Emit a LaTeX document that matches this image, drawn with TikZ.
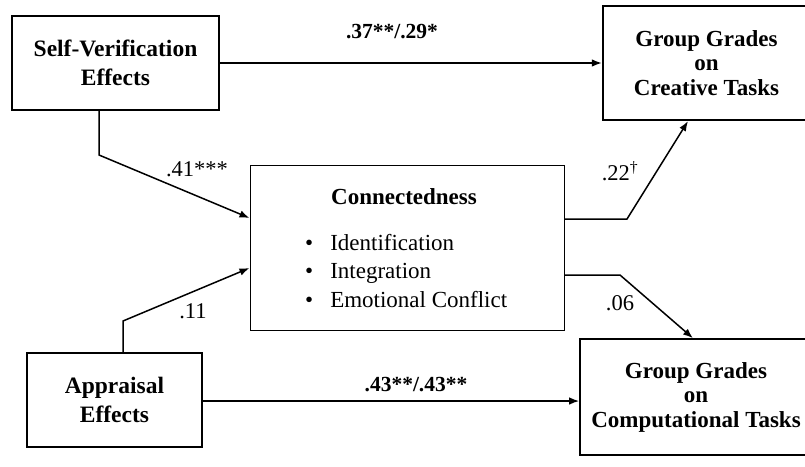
\documentclass[tikz,border=0pt]{standalone}
\usepackage{fontspec}
\setmainfont{Liberation Serif}
\usepackage{tikz}
\usetikzlibrary{positioning, arrows.meta}

\begin{document}
\begin{tikzpicture}[x=1pt, y=-1pt,
    box/.style={draw, line width=1.6pt, align=center, inner sep=0pt,
                font=\fontsize{23.5}{28.5}\selectfont\bfseries},
    heavybox/.style={box, line width=2.2pt},
    tallbox/.style={font=\fontsize{23}{24.5}\selectfont\bfseries},
    lbl/.style={inner sep=0pt, font=\fontsize{22.5}{26}\selectfont},
    boldlbl/.style={lbl, font=\fontsize{21.5}{26}\selectfont\bfseries},
    arr/.style={-{Latex[length=10pt,width=7.5pt]}, line width=1.5pt}]
  \useasboundingbox (0,0) rectangle (805,466);

  % boxes
  \node[heavybox, minimum width=207pt, minimum height=94pt] (selfver) at (115.5,63) {Self-Verification\\Effects};
  \node[heavybox, tallbox, minimum width=207pt, minimum height=114pt] (creative) at (706.5,63) {Group Grades\\on\\Creative Tasks};
  \node[box, line width=1pt, minimum width=314pt, minimum height=165pt] (connect) at (407,247.5) {};
  \node[lbl, font=\fontsize{23}{28}\selectfont\bfseries] (conntitle) at (404,197) {Connectedness};
  \node[lbl, font=\fontsize{23}{28.5}\selectfont, align=left, anchor=west] (connitems) at (305,271)
       {\textbullet\hspace{17pt}Identification\\ \textbullet\hspace{17pt}Integration\\ \textbullet\hspace{17pt}Emotional Conflict};
  \node[box, minimum width=175pt, minimum height=94pt] (appraisal) at (114.5,400) {Appraisal\\Effects};
  \node[box, tallbox, minimum width=232pt, minimum height=116pt] (comput) at (696,397) {Group Grades\\on\\Computational Tasks};

  % paths
  \coordinate (svbend) at (99,155);
  \coordinate (apbend) at (123,321);
  \coordinate (upbend) at (627,219);
  \coordinate (lowbend) at (620,275);
  \draw[arr] (selfver) -- (creative);
  \draw[arr] (selfver.south -| svbend) -- (svbend) -- (connect.west |- 0,218);
  \draw[arr] (appraisal.north -| apbend) -- (apbend) -- (connect.west |- 0,268);
  \draw[arr] (connect.east |- upbend) -- (upbend) -- (creative.south -| 688,0);
  \draw[arr] (connect.east |- lowbend) -- (lowbend) -- (comput.north -| 693,0);
  \draw[arr] (appraisal.east |- 0,401) -- (comput.west |- 0,401);

  % coefficients
  \node[boldlbl] (sv-cr) at (392,32) {.37**/.29*};
  \node[lbl] (sv-co) at (197,169) {.41***};
  \node[lbl] (ap-co) at (193,311) {.11};
  \node[lbl] (co-cr) at (620,171) {.22\textsuperscript{\textdagger}};
  \node[lbl] (co-cp) at (620,303) {.06};
  \node[boldlbl] (ap-cp) at (416,385) {.43**/.43**};
\end{tikzpicture}
\end{document}
